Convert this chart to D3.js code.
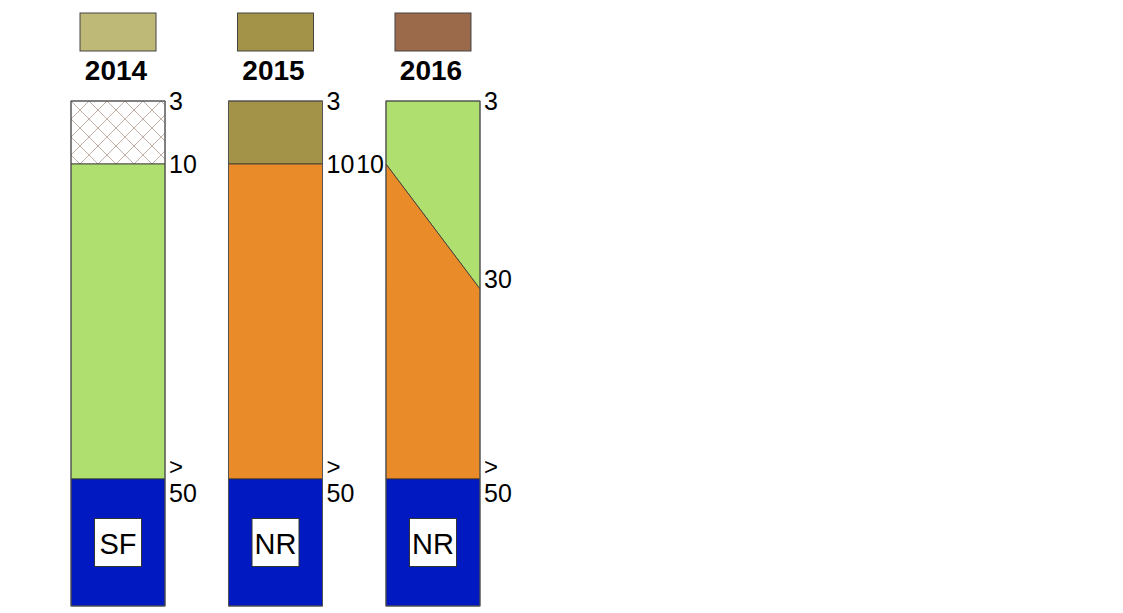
<!DOCTYPE html>
<html><head><meta charset="utf-8">
<script src="https://cdn.jsdelivr.net/npm/d3@7"></script>
<style>body{margin:0;background:#fff}svg{display:block}</style>
</head><body>
<script>
// ---- data ----
const years = ["2014", "2015", "2016"];
const yearColors = ["#bfb978", "#a39348", "#9b6a4b"];
const codes = ["SF", "NR", "NR"];
// depth levels (schematic, piecewise); 60 = bottom of column ("> 50")
const depthDomain = [3, 10, 30, 50, 60];
// segments: [column, topLeft, topRight, bottomLeft, bottomRight, fillKey]
const segments = [
  ["2014", 3, 3, 10, 10, "hatch"],
  ["2014", 10, 10, 50, 50, "green"],
  ["2014", 50, 50, 60, 60, "blue"],
  ["2015", 3, 3, 10, 10, "olive"],
  ["2015", 10, 10, 50, 50, "orange"],
  ["2015", 50, 50, 60, 60, "blue"],
  ["2016", 3, 3, 10, 30, "green"],
  ["2016", 10, 30, 50, 50, "orange"],
  ["2016", 50, 50, 60, 60, "blue"]
];
// depth labels: [column, side, depth, text]
const depthLabels = [
  ["2014", "right", 3, "3"], ["2014", "right", 10, "10"], ["2014", "right", 50, ">|50"],
  ["2015", "right", 3, "3"], ["2015", "right", 10, "10"], ["2015", "right", 50, ">|50"],
  ["2016", "right", 3, "3"], ["2016", "left", 10, "10"], ["2016", "right", 30, "30"], ["2016", "right", 50, ">|50"]
];
const fills = {green: "#aedf6f", orange: "#e88b28", blue: "#0019c0", olive: "#a39348", hatch: "url(#hatch)"};

// ---- drawing ----
const W = 1123, H = 613;
const svg = d3.select("body").append("svg").attr("width", W).attr("height", H);
const defs = svg.append("defs");
const pat = defs.append("pattern").attr("id", "hatch").attr("patternUnits", "userSpaceOnUse")
  .attr("width", 18).attr("height", 18).attr("x", 71).attr("y", 101);
pat.append("rect").attr("width", 18).attr("height", 18).attr("fill", "#fff");
pat.append("path").attr("d", "M0,0L18,18M18,0L0,18").attr("stroke", "#c2b0a6").attr("stroke-width", 1);

const x = d3.scaleBand().domain(years).range([71, 480]).paddingInner(0.403).paddingOuter(0);
const y = d3.scaleLinear().domain(depthDomain).range([101, 164, 289, 479, 606]);
const bw = x.bandwidth();
const font = "Arial, 'Liberation Sans', sans-serif";

// legend boxes + year labels
const leg = svg.append("g").selectAll("g").data(years).join("g");
leg.append("rect")
  .attr("x", d => x(d) + bw / 2 - 38).attr("y", 13).attr("width", 76).attr("height", 38)
  .attr("fill", (d, i) => yearColors[i]).attr("stroke", "#444").attr("stroke-width", 1);
leg.append("text")
  .attr("x", d => x(d) + bw / 2 - 2).attr("y", 80)
  .attr("text-anchor", "middle").attr("font-family", font).attr("font-weight", "bold")
  .attr("font-size", 28).attr("fill", "#000").text(d => d);

// segments
svg.append("g").selectAll("path").data(segments).join("path")
  .attr("d", s => {
    const x0 = x(s[0]), x1 = x0 + bw;
    return `M${x0},${y(s[1])}L${x1},${y(s[2])}L${x1},${y(s[4])}L${x0},${y(s[3])}Z`;
  })
  .attr("fill", s => fills[s[5]])
  .attr("stroke", "#333").attr("stroke-width", 0.8).attr("stroke-linejoin", "round");

// column outlines
svg.append("g").selectAll("rect").data(years).join("rect")
  .attr("x", d => x(d)).attr("y", y(3)).attr("width", bw).attr("height", y(60) - y(3))
  .attr("fill", "none").attr("stroke", "#555").attr("stroke-width", 1);

// code boxes
const cb = svg.append("g").selectAll("g").data(years).join("g");
const midBlue = (y(50) + y(60)) / 2;
cb.append("rect")
  .attr("x", d => x(d) + bw / 2 - 23.5).attr("y", midBlue - 24).attr("width", 47).attr("height", 48)
  .attr("fill", "#fff").attr("stroke", "#333").attr("stroke-width", 1);
cb.append("text")
  .attr("x", d => x(d) + bw / 2).attr("y", midBlue + 1).attr("dominant-baseline", "central")
  .attr("text-anchor", "middle").attr("font-family", font).attr("font-size", 29).attr("fill", "#000")
  .text((d, i) => codes[i]);

// depth labels (two-line labels drawn as two stacked texts)
const lines = [];
depthLabels.forEach(d => {
  const parts = d[3].split("|");
  const lx = d[1] === "left" ? x(d[0]) - 2 : x(d[0]) + bw + 4;
  const ly = y(d[2]) + (d[2] === 30 ? -10 : 0);
  if (parts.length === 1) lines.push({x: lx, y: ly, t: parts[0], side: d[1], fs: 25});
  else {
    lines.push({x: lx, y: ly - 13, t: parts[0], side: d[1], fs: 24});
    lines.push({x: lx, y: ly + 14, t: parts[1], side: d[1], fs: 25});
  }
});
svg.append("g").selectAll("text").data(lines).join("text")
  .attr("font-family", font).attr("font-size", d => d.fs).attr("fill", "#000")
  .attr("text-anchor", d => d.side === "left" ? "end" : "start")
  .attr("x", d => d.x).attr("y", d => d.y)
  .attr("dominant-baseline", "central")
  .text(d => d.t);
</script>
</body></html>
